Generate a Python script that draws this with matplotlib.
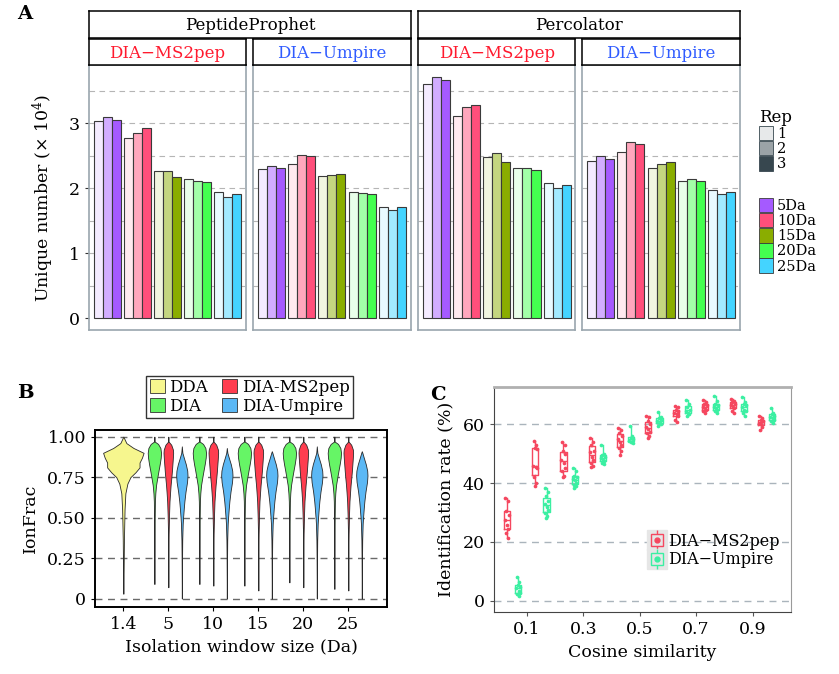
import numpy as np
import matplotlib
matplotlib.use("Agg")
import matplotlib.pyplot as plt
from matplotlib.patches import Patch
from matplotlib.lines import Line2D
from matplotlib.colors import to_rgb
from matplotlib.legend_handler import HandlerTuple

# ==========================================
# DATA  -  PANEL A (unique numbers, x 10^4)
# ==========================================

windows = ["5Da", "10Da", "15Da", "20Da", "25Da"]
reps = ["1", "2", "3"]
engines = ["PeptideProphet", "Percolator"]
methods = ["DIA\u2212MS2pep", "DIA\u2212Umpire"]

# rows = window, cols = rep 1..3
pp_ms2pep = [[3.04, 3.10, 3.06],
             [2.78, 2.85, 2.93],
             [2.27, 2.27, 2.18],
             [2.14, 2.12, 2.10],
             [1.94, 1.86, 1.92]]
pp_umpire = [[2.30, 2.34, 2.32],
             [2.38, 2.52, 2.50],
             [2.19, 2.21, 2.22],
             [1.95, 1.93, 1.92],
             [1.72, 1.67, 1.71]]
perc_ms2pep = [[3.60, 3.71, 3.67],
               [3.12, 3.25, 3.29],
               [2.48, 2.55, 2.40],
               [2.31, 2.32, 2.29],
               [2.09, 2.00, 2.06]]
perc_umpire = [[2.42, 2.50, 2.45],
               [2.56, 2.71, 2.69],
               [2.32, 2.37, 2.40],
               [2.12, 2.15, 2.12],
               [1.97, 1.91, 1.94]]

# ==========================================
# DATA  -  PANEL B (IonFrac violins)
# ==========================================

window_labels = ["1.4", "5", "10", "15", "20", "25"]
violin_groups = ["DDA", "DIA", "DIA-MS2pep", "DIA-Umpire"]

# tail ends of each violin (min, max) per window 5..25
dda_range = (0.03, 1.00)
dia_min = [0.09, 0.09, 0.08, 0.10, 0.06]
ms2pep_min = [0.07, 0.08, 0.05, 0.07, 0.05]
umpire_min = [0.0, 0.0, 0.0, 0.0, 0.0]
umpire_max = [0.94, 0.93, 0.91, 0.94, 0.91]

# violin outline: IonFrac level -> relative width (top to bottom)
dda_prof_y = [1.00, 0.96, 0.93, 0.90, 0.87, 0.84, 0.81, 0.78, 0.75, 0.71, 0.65, 0.55, 0.37, 0.18, 0.03]
dda_prof_w = [0.0, 0.15, 0.5, 1.0, 0.92, 0.8, 0.8, 0.6, 0.35, 0.2, 0.1, 0.06, 0.03, 0.015, 0.0]
dia_prof_y = [1.00, 0.97, 0.955, 0.93, 0.90, 0.87, 0.83, 0.79, 0.75, 0.70, 0.65, 0.60, 0.50, 0.40, 0.30, 0.09]
dia_prof_w = [0.0, 0.03, 0.55, 0.9, 1.0, 0.95, 0.8, 0.62, 0.45, 0.25, 0.14, 0.08, 0.05, 0.03, 0.02, 0.0]
ms2_prof_y = [1.00, 0.97, 0.95, 0.92, 0.90, 0.86, 0.82, 0.78, 0.74, 0.70, 0.65, 0.60, 0.52, 0.40, 0.30, 0.20, 0.07]
ms2_prof_w = [0.0, 0.04, 0.6, 0.95, 1.0, 0.92, 0.82, 0.72, 0.6, 0.47, 0.35, 0.24, 0.15, 0.06, 0.03, 0.02, 0.0]
ump_prof_y = [0.94, 0.90, 0.87, 0.83, 0.79, 0.76, 0.72, 0.66, 0.60, 0.56, 0.50, 0.46, 0.36, 0.25, 0.12, 0.0]
ump_prof_w = [0.0, 0.1, 0.35, 0.7, 0.95, 1.0, 0.92, 0.65, 0.45, 0.35, 0.22, 0.15, 0.07, 0.04, 0.02, 0.0]

# ==========================================
# DATA  -  PANEL C (identification rate %)
# ==========================================

cos_bins = [0.05, 0.15, 0.25, 0.35, 0.45, 0.55, 0.65, 0.75, 0.85, 0.95]

rate_ms2pep = [
    [34.9, 34.0, 30.6, 29.2, 27.5, 25.8, 24.4, 23.0, 21.5],
    [54.2, 53.0, 52.0, 51.5, 46.0, 45.5, 45.0, 42.0, 40.0, 39.0],
    [54.0, 53.0, 51.0, 50.0, 48.0, 47.0, 45.0, 44.0, 42.5, 42.0],
    [55.5, 54.0, 53.0, 51.0, 50.5, 49.0, 48.0, 47.0, 46.0, 45.5],
    [58.8, 58.0, 57.0, 56.0, 55.0, 54.0, 53.0, 52.0, 51.0, 49.5],
    [63.0, 62.5, 61.0, 60.0, 59.0, 58.5, 57.5, 57.0, 56.0, 55.5],
    [66.2, 65.8, 65.0, 64.5, 64.0, 63.5, 63.0, 61.5, 60.8],
    [68.2, 67.5, 67.0, 66.5, 66.0, 65.5, 65.0, 64.5, 63.8],
    [68.5, 68.0, 67.5, 67.0, 66.5, 66.0, 65.5, 64.5, 63.8],
    [63.0, 62.0, 61.5, 61.0, 60.5, 60.0, 59.0, 58.0],
]
rate_umpire = [
    [8.2, 6.5, 5.5, 4.8, 4.2, 3.5, 2.8, 2.2, 1.8],
    [38.2, 37.0, 35.5, 34.0, 33.0, 32.0, 31.0, 30.0, 29.0, 28.3],
    [45.0, 44.0, 42.5, 42.0, 41.5, 41.0, 40.0, 39.5, 39.0, 38.5],
    [53.0, 50.0, 49.5, 49.0, 48.5, 48.0, 47.5, 47.0, 46.5],
    [59.5, 56.0, 55.5, 55.0, 54.5, 54.0, 53.5],
    [64.2, 62.5, 62.0, 61.5, 61.0, 60.5, 60.0, 59.4],
    [68.3, 67.0, 66.0, 65.0, 64.5, 64.0, 63.5, 62.8],
    [69.5, 68.0, 67.0, 66.5, 66.0, 65.5, 65.0, 64.5, 63.8],
    [69.3, 67.5, 67.0, 66.5, 66.0, 65.0, 64.5, 64.0, 63.0],
    [65.6, 64.0, 63.5, 63.0, 62.5, 62.0, 61.5, 61.0, 60.4],
]

# ==========================================
# STYLE
# ==========================================

plt.rcParams["font.family"] = ["DejaVu Serif"]
plt.rcParams["mathtext.fontset"] = "dejavuserif"

W, H = 839, 674
fig = plt.figure(figsize=(W / 100, H / 100), dpi=100)


def fax(left, top, right, bottom):
    # pixel box -> figure axes
    return fig.add_axes([left / W, 1 - bottom / H, (right - left) / W, (bottom - top) / H])


def tint(color, a):
    r, g, b = to_rgb(color)
    return (1 - a + a * r, 1 - a + a * g, 1 - a + a * b)


win_colors = ["#A55AFF", "#FF4F7B", "#8AAD00", "#44FF50", "#44D4FF"]
rep_alpha = [0.12, 0.5, 1.0]

# ==========================================
# PANEL A
# ==========================================

panel_data = [pp_ms2pep, pp_umpire, perc_ms2pep, perc_umpire]
panel_x = [(89, 246), (253, 410.7), (418, 575.3), (582.3, 740)]
method_cols = ["#FF1A2E", "#2F5BFF"]

for i, vals in enumerate(panel_data):
    l, r = panel_x[i]
    ax = fax(l, 65, r, 330)
    for g in range(len(windows)):
        for k in range(len(reps)):
            ax.bar(g + (k - 1) * 0.3, vals[g][k], width=0.3,
                   color=tint(win_colors[g], rep_alpha[k]),
                   edgecolor="#3a3a3a", linewidth=0.8, zorder=2)
    for yy in np.arange(0.5, 3.6, 0.5):
        ax.axhline(yy, color="#b5b5b5", lw=0.8, ls=(0, (5, 4)), zorder=0)
    ax.set_xlim(-0.6, 4.6)
    ax.set_ylim(-0.18, 3.9)
    ax.set_xticks([])
    for s in ax.spines.values():
        s.set_color("#9aa6ae")
        s.set_linewidth(1.2)
    if i == 0:
        ax.set_yticks([0, 1, 2, 3])
        ax.tick_params(axis="y", labelsize=12.5, length=3, color="#333333")
        ax.set_ylabel("Unique number (\u00d7 10$^{4}$)", fontsize=12.5, labelpad=9)
    else:
        ax.set_yticks([])

    # method strip
    st = fax(l, 39, r, 65)
    st.set_xticks([])
    st.set_yticks([])
    st.text(0.5, 0.45, methods[i % 2], color=method_cols[i % 2],
            ha="center", va="center", fontsize=12)
    for s in st.spines.values():
        s.set_linewidth(1.1)

# engine strips
for j, eng in enumerate(engines):
    st = fax(panel_x[2 * j][0], 11, panel_x[2 * j + 1][1], 37.7)
    st.set_xticks([])
    st.set_yticks([])
    st.text(0.5, 0.45, eng, ha="center", va="center", fontsize=12)
    for s in st.spines.values():
        s.set_linewidth(1.1)

# legends
rep_handles = [Patch(facecolor=tint("#37474F", a), edgecolor="#37474F", lw=0.6) for a in rep_alpha]
leg1 = fig.legend(rep_handles, reps, title="Rep", loc="upper left",
                  bbox_to_anchor=(750 / W, 1 - 100 / H), frameon=False,
                  fontsize=10.5, title_fontsize=12, handlelength=1.0, handleheight=1.15,
                  labelspacing=0.0, handletextpad=0.25, borderpad=0.1)
leg1._legend_box.align = "left"
win_handles = [Patch(facecolor=c, edgecolor="#3a3a3a", lw=0.6) for c in win_colors]
fig.legend(win_handles, windows, loc="upper left",
           bbox_to_anchor=(750 / W, 1 - 189 / H), frameon=False,
           fontsize=10.5, handlelength=1.0, handleheight=1.15,
           labelspacing=0.0, handletextpad=0.25, borderpad=0.1)

# ==========================================
# PANEL B
# ==========================================

axb = fax(95, 430, 387, 607)
vcols = ["#F6F68E", "#66F566", "#FF3D4F", "#5BB8F5"]


def violin(ax, x, half, py, pw, ymin, ymax, color):
    yy = np.array(py, dtype=float)
    yy[0] = ymax
    yy[-1] = ymin
    ww = np.array(pw) * half
    ax.fill_betweenx(yy, x - ww, x + ww, facecolor=color, edgecolor="#2a2a2a",
                     linewidth=0.6, zorder=3)


violin(axb, 0, 0.45, dda_prof_y, dda_prof_w, dda_range[0], dda_range[1], vcols[0])
for k in range(5):
    x = k + 1
    violin(axb, x - 0.31, 0.148, dia_prof_y, dia_prof_w, dia_min[k], 1.0, vcols[1])
    violin(axb, x, 0.107, ms2_prof_y, ms2_prof_w, ms2pep_min[k], 1.0, vcols[2])
    violin(axb, x + 0.30, 0.126, ump_prof_y, ump_prof_w, umpire_min[k], umpire_max[k], vcols[3])

for yy in [0, 0.25, 0.5, 0.75, 1.0]:
    axb.axhline(yy, color="#6a6a6a", lw=1, ls=(0, (5, 4)), zorder=1)
axb.set_xlim(-0.63, 5.86)
axb.set_ylim(-0.052, 1.041)
axb.set_xticks(range(6))
axb.set_xticklabels(window_labels)
axb.set_yticks([0, 0.25, 0.5, 0.75, 1.0])
axb.set_yticklabels(["0", "0.25", "0.50", "0.75", "1.00"])
axb.tick_params(labelsize=12.5, length=3)
axb.set_xlabel("Isolation window size (Da)", fontsize=12.5, labelpad=4)
axb.set_ylabel("IonFrac", fontsize=12.5, labelpad=6)
for s in axb.spines.values():
    s.set_linewidth(1.4)

vio_handles = [Patch(facecolor=c, edgecolor="#333333", lw=0.6) for c in vcols]
legb = fig.legend(vio_handles, violin_groups, ncol=2, loc="lower center",
                  bbox_to_anchor=(249.5 / W, 1 - 418 / H), frameon=True, fancybox=False,
                  fontsize=12, handlelength=0.9, handleheight=0.9, borderaxespad=0,
                  labelspacing=0.1, handletextpad=0.3, columnspacing=0.8, borderpad=0.2)
legb.get_frame().set_edgecolor("black")
legb.get_frame().set_linewidth(1.0)

# ==========================================
# PANEL C
# ==========================================

axc = fax(494, 387, 791, 612)
ccols = ["#F5475F", "#3BEFA2"]
jit = [-0.006, 0.004, -0.002, 0.007, -0.007, 0.001, 0.005, -0.004, 0.003, -0.001]

for j, (series, c) in enumerate([(rate_ms2pep, ccols[0]), (rate_umpire, ccols[1])]):
    off = -0.02 if j == 0 else 0.02
    for b, vals in zip(cos_bins, series):
        axc.boxplot(vals, positions=[b + off], widths=0.022, whis=(0, 100),
                    showfliers=False, manage_ticks=False,
                    boxprops=dict(color=c, lw=1.0),
                    whiskerprops=dict(color=c, lw=1.0),
                    capprops=dict(lw=0),
                    medianprops=dict(color=c, lw=1.0))
        xs = [b + off + jit[n % len(jit)] for n in range(len(vals))]
        axc.scatter(xs, vals, s=7, color=c, zorder=4, linewidths=0)

for yy in [0, 20, 40, 60]:
    axc.axhline(yy, color="#aab4bc", lw=1, ls=(0, (5, 4)), zorder=0)
axc.set_xlim(-0.016, 1.036)
axc.set_ylim(-3.8, 72.7)
axc.set_xticks([0.1, 0.3, 0.5, 0.7, 0.9])
axc.set_xticklabels(["0.1", "0.3", "0.5", "0.7", "0.9"])
axc.set_yticks([0, 20, 40, 60])
axc.tick_params(labelsize=12.5, length=3, color="#555555")
axc.set_xlabel("Cosine similarity", fontsize=12.5, labelpad=4)
axc.set_ylabel("Identification rate (%)", fontsize=12.5, labelpad=6)
axc.spines["top"].set_color("#b0b0b0")
axc.spines["top"].set_linewidth(2)
axc.spines["right"].set_color("#9a9a9a")
axc.spines["left"].set_color("#444444")
axc.spines["bottom"].set_color("#444444")

box_handles = []
for c in ccols:
    box_handles.append((Line2D([], [], color="#e6e6e6", marker="s", ms=15, ls="none"),
                        Line2D([], [], color=c, marker="|", ms=15, mew=1, ls="none"),
                        Line2D([], [], color=c, marker="s", ms=9, mfc="#e6e6e6", mew=1, ls="none"),
                        Line2D([], [], color=c, marker="o", ms=3.5, ls="none")))
axc.legend(box_handles, ["DIA\u2212MS2pep", "DIA\u2212Umpire"], loc="lower right",
           bbox_to_anchor=(1.01, 0.13), frameon=False, fontsize=11.5,
           handler_map={tuple: HandlerTuple(ndivide=1, pad=0)},
           handlelength=1.0, handletextpad=0.2, labelspacing=0.1)

# ==========================================
# PANEL LETTERS
# ==========================================

fig.text(17 / W, 1 - 14 / H, "A", fontsize=14, fontweight="bold", va="center")
fig.text(17 / W, 1 - 393 / H, "B", fontsize=14, fontweight="bold", va="center")
fig.text(430 / W, 1 - 395 / H, "C", fontsize=14, fontweight="bold", va="center")

fig.savefig("out.png", dpi=100)
